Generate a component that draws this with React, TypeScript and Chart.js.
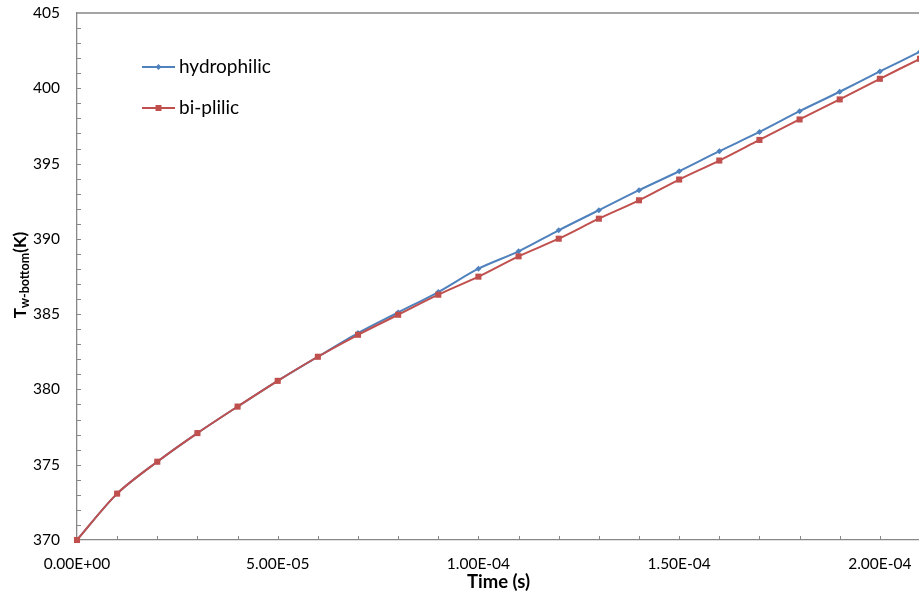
import React, { useEffect, useRef } from "react";
import { Chart, registerables } from "chart.js";

Chart.register(...registerables);

const timeValues = [0, 1e-5, 2e-5, 3e-5, 4e-5, 5e-5, 6e-5, 7e-5, 8e-5, 9e-5, 1e-4, 1.1e-4, 1.2e-4, 1.3e-4, 1.4e-4, 1.5e-4, 1.6e-4, 1.7e-4, 1.8e-4, 1.9e-4, 2.0e-4, 2.1e-4];
const hydrophilic = [370.0, 373.08, 375.2, 377.1, 378.86, 380.57, 382.17, 383.74, 385.11, 386.47, 388.02, 389.17, 390.57, 391.9, 393.23, 394.49, 395.82, 397.1, 398.48, 399.77, 401.12, 402.43];
const biplilic = [370.0, 373.08, 375.2, 377.1, 378.86, 380.57, 382.17, 383.63, 384.96, 386.29, 387.49, 388.84, 390.01, 391.34, 392.56, 393.94, 395.2, 396.57, 397.93, 399.26, 400.63, 401.96];
const seriesNames = ["hydrophilic", "bi-plilic"];
const seriesColors = ["#4F81BD", "#C0504D"];
const xMin = 0;
const xMax = 2.1e-4;
const xMajorTicks = [0, 5e-5, 1e-4, 1.5e-4, 2e-4];
const xMinorStep = 1e-5;
const yMin = 370;
const yMax = 405;
const yMajorStep = 5;
const yMinorStep = 1;

const FONT = "Lato, 'Open Sans', sans-serif";
const AXIS_COLOR = "#878787";

function sci(v: number): string {
  if (Math.abs(v) < 1e-12) return "0.00E+00";
  const e = Math.floor(Math.log10(Math.abs(v)) + 1e-9);
  const m = v / Math.pow(10, e);
  return m.toFixed(2) + "E" + (e < 0 ? "-" : "+") + String(Math.abs(e)).padStart(2, "0");
}

const decorPlugin = {
  id: "decor",
  afterDraw(chart: any) {
    const ctx = chart.ctx;
    const area = chart.chartArea;
    const xs = chart.scales.x;
    const ys = chart.scales.y;
    ctx.save();
    // top border
    ctx.strokeStyle = AXIS_COLOR;
    ctx.lineWidth = 1.3;
    ctx.beginPath();
    ctx.moveTo(area.left, area.top);
    ctx.lineTo(area.right, area.top);
    ctx.stroke();
    // minor/major ticks inside
    ctx.lineWidth = 1;
    ctx.beginPath();
    const ny = Math.round((yMax - yMin) / yMinorStep);
    for (let i = 1; i < ny; i++) {
      const py = Math.round(ys.getPixelForValue(yMin + i * yMinorStep)) + 0.5;
      ctx.moveTo(area.left, py);
      ctx.lineTo(area.left + 4, py);
    }
    const nx = Math.round((xMax - xMin) / xMinorStep);
    for (let i = 1; i <= nx; i++) {
      const px = Math.round(xs.getPixelForValue(xMin + i * xMinorStep)) + 0.5;
      ctx.moveTo(px, area.bottom);
      ctx.lineTo(px, area.bottom - 4);
    }
    ctx.stroke();

    // legend
    const legendX = area.left + 65;
    const legendYs = [area.top + 54, area.top + 95];
    for (let i = 0; i < 2; i++) {
      const ly = legendYs[i];
      ctx.strokeStyle = seriesColors[i];
      ctx.fillStyle = seriesColors[i];
      ctx.lineWidth = 2;
      ctx.beginPath();
      ctx.moveTo(legendX, ly);
      ctx.lineTo(legendX + 33, ly);
      ctx.stroke();
      const cx = legendX + 16.5;
      ctx.beginPath();
      if (i === 0) {
        ctx.moveTo(cx, ly - 3);
        ctx.lineTo(cx + 3, ly);
        ctx.lineTo(cx, ly + 3);
        ctx.lineTo(cx - 3, ly);
        ctx.closePath();
      } else {
        ctx.rect(cx - 3, ly - 3, 6, 6);
      }
      ctx.fill();
      ctx.fillStyle = "#000";
      ctx.font = "19px " + FONT;
      ctx.textAlign = "left";
      ctx.textBaseline = "middle";
      ctx.fillText(seriesNames[i], legendX + 37, ly);
    }

    // x title
    ctx.fillStyle = "#000";
    ctx.font = "bold 18.5px " + FONT;
    ctx.textAlign = "center";
    ctx.textBaseline = "middle";
    ctx.fillText("Time (s)", (area.left + area.right) / 2, area.bottom + 42);

    // y title with subscript
    ctx.translate(20, area.top + 262);
    ctx.rotate(-Math.PI / 2);
    const mainFont = "bold 17px " + FONT;
    const subFont = "bold 12.5px " + FONT;
    ctx.font = mainFont;
    const wT = ctx.measureText("T").width;
    const wK = ctx.measureText("(K)").width;
    ctx.font = subFont;
    const wSub = ctx.measureText("w-bottom").width;
    const total = wT + wSub + wK;
    let sx = -total / 2;
    ctx.textAlign = "left";
    ctx.textBaseline = "alphabetic";
    ctx.font = mainFont;
    ctx.fillText("T", sx, 6);
    sx += wT;
    ctx.font = subFont;
    ctx.fillText("w-bottom", sx, 9);
    sx += wSub;
    ctx.font = mainFont;
    ctx.fillText("(K)", sx, 6);
    ctx.restore();
  },
};

export default function App() {
  const ref = useRef<HTMLCanvasElement | null>(null);
  useEffect(() => {
    if (!ref.current) return;
    const chart = new Chart(ref.current, {
      type: "line",
      data: {
        datasets: [
          {
            label: seriesNames[0],
            data: timeValues.map((t, i) => ({ x: t, y: hydrophilic[i] })),
            borderColor: seriesColors[0],
            backgroundColor: seriesColors[0],
            borderWidth: 2,
            pointStyle: "rectRot",
            pointRadius: 3,
            pointBorderWidth: 0,
            tension: 0.3,
            order: 1,
            clip: false,
          },
          {
            label: seriesNames[1],
            data: timeValues.map((t, i) => ({ x: t, y: biplilic[i] })),
            borderColor: seriesColors[1],
            backgroundColor: seriesColors[1],
            borderWidth: 2,
            pointStyle: "rect",
            pointRadius: 4.3,
            pointBorderWidth: 0,
            tension: 0.3,
            order: 0,
            clip: false,
          },
        ],
      },
      options: {
        animation: false,
        responsive: false,
        devicePixelRatio: 1,
        layout: { padding: { top: 13, right: 20, left: 0, bottom: 0 } },
        plugins: { legend: { display: false }, tooltip: { enabled: false } },
        scales: {
          x: {
            type: "linear",
            min: xMin,
            max: xMax,
            grid: { display: false, drawTicks: false },
            border: { display: true, color: AXIS_COLOR, width: 1.3 },
            afterBuildTicks: (scale: any) => {
              scale.ticks = xMajorTicks.map((v) => ({ value: v }));
            },
            afterFit: (scale: any) => {
              scale.height = 56;
              scale.paddingLeft = 0;
              scale.paddingRight = 0;
            },
            ticks: {
              autoSkip: false,
              maxRotation: 0,
              padding: 15,
              color: "#000",
              font: { family: FONT, size: 15.5 },
              callback: (v: any) => sci(Number(v)),
            },
          },
          y: {
            type: "linear",
            min: yMin,
            max: yMax,
            grid: { display: false, drawTicks: false },
            border: { display: true, color: AXIS_COLOR, width: 1.3 },
            afterFit: (scale: any) => {
              scale.width = 77;
              scale.paddingTop = 0;
              scale.paddingBottom = 0;
            },
            ticks: {
              stepSize: yMajorStep,
              padding: 17,
              color: "#000",
              font: { family: FONT, size: 15.5 },
            },
          },
        },
      },
      plugins: [decorPlugin],
    });
    return () => chart.destroy();
  }, []);
  return (
    <div style={{ position: "fixed", left: 0, top: 0, width: 919, height: 596, overflow: "hidden", background: "#fff" }}>
      <canvas ref={ref} width={940} height={596} style={{ display: "block", width: 940, height: 596 }} />
    </div>
  );
}
